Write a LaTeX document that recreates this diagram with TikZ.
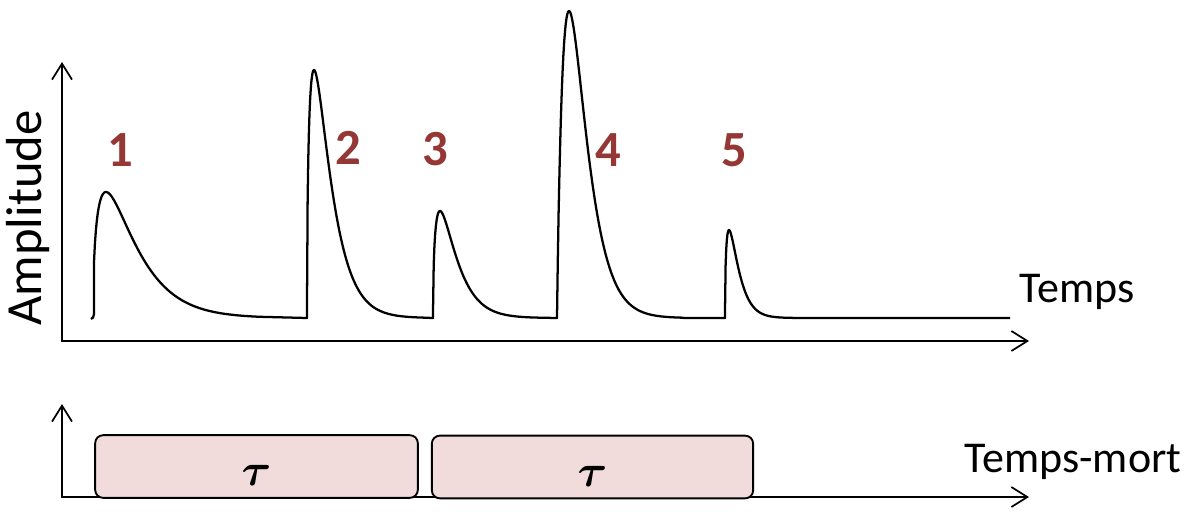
\documentclass[tikz,border=0pt]{standalone}
\usepackage{fontspec}
\setmainfont{Carlito}
\usepackage{xcolor,tikz,graphicx}
\usetikzlibrary{arrows.meta,positioning}
\definecolor{numred}{HTML}{953735}
\definecolor{dtfill}{HTML}{F2DCDB}
\tikzset{ax/.style={line width=1.3pt,{Straight Barb[length=12pt,width=15pt,line width=1.3pt]}-{Straight Barb[length=12pt,width=15pt,line width=1.3pt]}},
 sig/.style={line width=1.7pt,line join=round},
 dt/.style={draw,line width=1.4pt,fill=dtfill,rounded corners=6pt,minimum height=47pt,inner sep=0pt},
 num/.style={text=numred,font=\fontsize{38}{44}\selectfont\bfseries},
 lbl/.style={font=\fontsize{33}{40}\selectfont},
 taul/.style={font=\boldmath},
 declare function={pulse(\t,\p,\h,\n)=318-\h*pow(\t/\p,\n)*exp(\n*(1-\t/\p));}}
\newcommand\bigtau{\scalebox{3.4}{$\tau$}}
\begin{document}
\begin{tikzpicture}[x=0.75pt,y=-0.75pt]
\useasboundingbox (0,0) rectangle (1195,511);
\coordinate (o1) at (62,341);\coordinate (y1) at (62,62);\coordinate (x1) at (1029,341);
\coordinate (o2) at (62,497);\coordinate (y2) at (62,404);\coordinate (x2) at (1029,497);
\draw[ax](y1)--(o1)--(x1);
\draw[ax](y2)--(o2)--(x2);
\draw[sig] (91,319) .. controls (93,318) .. (94,314) -- plot[domain=94.01:260,samples=180] (\x,{pulse(\x-93,13,126,0.5)})
 -- (307,318) -- plot[domain=307.01:420,samples=180] (\x,{pulse(\x-307,7,248,0.5)})
 -- (433,318) -- plot[domain=433.01:545,samples=160] (\x,{pulse(\x-433,7,107,0.5)})
 -- (557,318) -- plot[domain=557.01:715,samples=200] (\x,{pulse(\x-557,12,307,0.95)})
 -- (725,318) -- plot[domain=725.01:820,samples=160] (\x,{pulse(\x-725,4,88,0.5)}) -- (1010,318);
\node[num](n1) at (120,150){1};\node[num](n2) at (348,148){2};\node[num](n3) at (435,149){3};
\node[num](n4) at (608,150){4};\node[num](n5) at (734,150){5};
\node[lbl,rotate=90](amp) at (28,218){\fontsize{38}{44}\selectfont Amplitude};
\node[lbl](tps) at (1077,292){Temps};
\node[lbl](tdm) at (1073,462){Temps-mort};
\node[dt,minimum width=242pt](box1) at (256.5,466.5){};
\node[dt,minimum width=241pt](box2) at (592.5,467){};
\node[taul](tau1) at ([yshift=-7pt]box1.center){\bigtau};
\node[taul](tau2) at ([yshift=-7pt]box2.center){\bigtau};
\end{tikzpicture}
\end{document}
